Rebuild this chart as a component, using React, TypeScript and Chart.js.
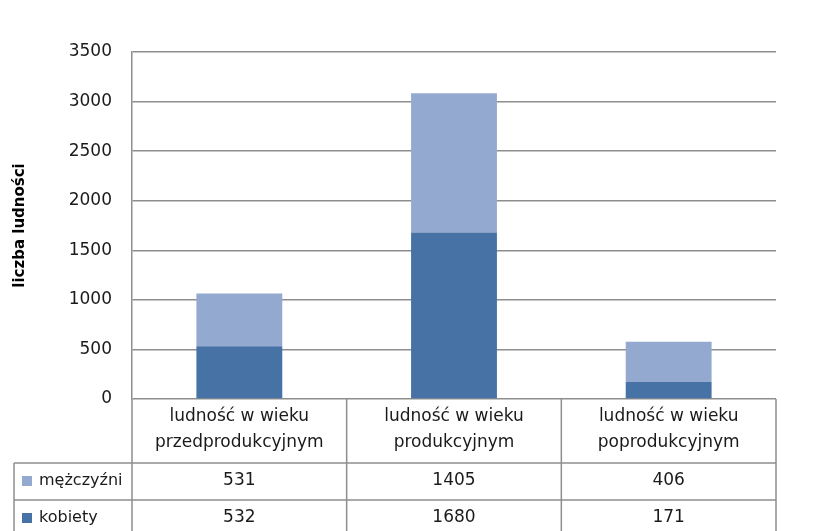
import React, { useEffect, useRef } from "react";
import { Chart, registerables } from "chart.js";

Chart.register(...registerables);

const categories: string[][] = [
  ["ludność w wieku", "przedprodukcyjnym"],
  ["ludność w wieku", "produkcyjnym"],
  ["ludność w wieku", "poprodukcyjnym"],
];
const seriesNames = ["mężczyźni", "kobiety"];
const menValues = [531, 1405, 406];
const womenValues = [532, 1680, 171];
const yMin = 0;
const yMax = 3500;
const yStep = 500;
const yTitle = "liczba ludności";

const LIGHT = "#94a9d0";
const DARK = "#4672a6";
const GRID = "#8e8e8e";
const TEXT = "#1a1a1a";
const FONT = "'DejaVu Sans', sans-serif";

const tablePlugin = {
  id: "dataTable",
  afterDraw(chart: any) {
    const { ctx, chartArea, scales } = chart;
    const xs = scales.x;
    const n = categories.length;
    const left = chartArea.left;
    const right = chartArea.right;
    const top = chartArea.bottom;
    const half = (right - left) / n / 2;
    const headerBottom = top + 64;
    const row1Bottom = headerBottom + 37;
    const bottom = chart.height + 2;
    const tableLeft = 14;

    ctx.save();
    ctx.strokeStyle = GRID;
    ctx.lineWidth = 1.5;
    ctx.beginPath();
    for (let i = 0; i <= n; i++) {
      const xp = i < n ? xs.getPixelForValue(i) - half : xs.getPixelForValue(n - 1) + half;
      ctx.moveTo(xp, top);
      ctx.lineTo(xp, bottom);
    }
    ctx.moveTo(tableLeft, headerBottom);
    ctx.lineTo(tableLeft, bottom);
    ctx.moveTo(tableLeft, headerBottom);
    ctx.lineTo(right, headerBottom);
    ctx.moveTo(tableLeft, row1Bottom);
    ctx.lineTo(right, row1Bottom);
    ctx.stroke();

    ctx.fillStyle = TEXT;
    ctx.font = `17px ${FONT}`;
    ctx.textAlign = "center";
    ctx.textBaseline = "middle";
    categories.forEach((lines, i) => {
      const cx = xs.getPixelForValue(i);
      lines.forEach((t, j) => ctx.fillText(t, cx, top + 18 + j * 26));
    });

    const rows = [
      { name: seriesNames[0], values: menValues, color: LIGHT },
      { name: seriesNames[1], values: womenValues, color: DARK },
    ];
    const rowCenters = [headerBottom + 18, row1Bottom + 18];
    rows.forEach((r, k) => {
      const cy = rowCenters[k];
      ctx.fillStyle = r.color;
      ctx.fillRect(22, cy - 5, 10, 10);
      ctx.fillStyle = TEXT;
      ctx.textAlign = "left";
      ctx.font = `16px ${FONT}`;
      ctx.fillText(r.name, 39, cy);
      ctx.textAlign = "center";
      ctx.font = `17px ${FONT}`;
      r.values.forEach((v, i) => ctx.fillText(String(v), xs.getPixelForValue(i), cy));
    });
    ctx.restore();
  },
};

export default function App() {
  const ref = useRef<HTMLCanvasElement>(null);
  useEffect(() => {
    if (!ref.current) return;
    const chart = new Chart(ref.current, {
      type: "bar",
      data: {
        labels: categories.map((c) => c.join(" ")),
        datasets: [
          { label: seriesNames[1], data: womenValues, backgroundColor: DARK },
          { label: seriesNames[0], data: menValues, backgroundColor: LIGHT },
        ],
      },
      options: {
        responsive: false,
        animation: false,
        layout: { padding: { left: 0, top: 52, right: 41, bottom: 132 } },
        plugins: { legend: { display: false }, tooltip: { enabled: false }, title: { display: false } },
        datasets: { bar: { categoryPercentage: 1, barPercentage: 0.4 } },
        scales: {
          x: { stacked: true, display: false, grid: { display: false } },
          y: {
            stacked: true,
            min: yMin,
            max: yMax,
            ticks: {
              stepSize: yStep,
              padding: 20,
              color: TEXT,
              font: { family: FONT, size: 17 },
              callback: (v: any) => String(v),
            },
            grid: { color: GRID, lineWidth: 1.5, drawTicks: false },
            border: { color: GRID, width: 1.5 },
            title: {
              display: true,
              text: yTitle,
              color: "#000",
              font: { family: FONT, size: 15, weight: "bold" },
              padding: { top: 11, bottom: 0 },
            },
            afterFit: (scale: any) => {
              scale.width = 132;
            },
          },
        },
      },
      plugins: [tablePlugin],
    });
    return () => chart.destroy();
  }, []);
  return (
    <div style={{ position: "fixed", left: 0, top: 0, width: 817, height: 531, background: "#fff" }}>
      <canvas ref={ref} width={817} height={531} style={{ display: "block" }} />
    </div>
  );
}
